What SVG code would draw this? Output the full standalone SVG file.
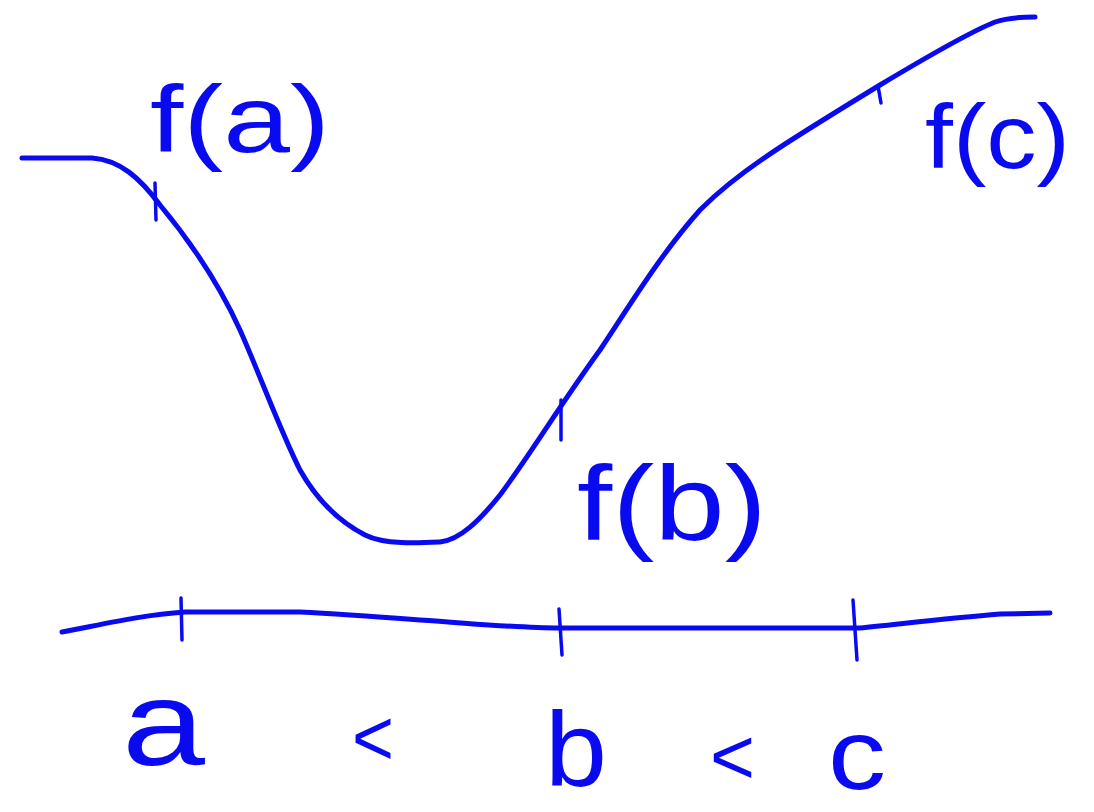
<svg xmlns="http://www.w3.org/2000/svg" width="1094" height="812" viewBox="0 0 1094 812">
<style>
.ink{fill:none;stroke:#0a0af0;stroke-width:5;stroke-linecap:round;stroke-linejoin:round}
.thin{fill:none;stroke:#0a0af0;stroke-width:3.5;stroke-linecap:round}
.lbl{font-family:"Liberation Sans",Arial,sans-serif;fill:#0a0af0}
</style>
<rect width="1094" height="812" fill="#ffffff"/>
<g id="curve">
<path class="ink" d="M22,158 L92,158 C120,160 140,178 160,205 C185,235 215,275 240,330 C260,375 280,430 300,470 C318,502 340,522 365,535 C385,545 420,543 440,542 C460,540 480,520 500,495 C530,455 560,405 600,350 C630,305 660,255 700,210 C740,170 790,140 880,85 C930,55 975,30 995,22 C1010,17 1025,17 1035,17"/>
<path class="thin" d="M155,183 L156,220"/>
<path class="thin" d="M561,400 L561,440"/>
<path class="thin" d="M878,86 L881,103"/>
</g>
<g id="axis">
<path class="ink" d="M62,632 C100,625 140,615 185,612 L300,612 C340,614 380,617 420,620 C480,624 520,628 560,628 L860,628 C900,624 950,618 1000,614 L1050,613"/>
<path class="thin" d="M181,598 L182,640"/>
<path class="thin" d="M559,609 L562,655"/>
<path class="thin" d="M853,600 L857,660"/>
</g>
<g id="label-fa"><text class="lbl" x="150" y="152" font-size="95" textLength="180" lengthAdjust="spacingAndGlyphs">f(a)</text></g>
<g id="label-fc"><text class="lbl" x="925" y="168" font-size="90" textLength="145" lengthAdjust="spacingAndGlyphs">f(c)</text></g>
<g id="label-fb"><text class="lbl" x="577" y="540" font-size="105" textLength="190" lengthAdjust="spacingAndGlyphs">f(b)</text></g>
<g id="label-order">
<text class="lbl" x="122" y="765" font-size="120" textLength="83" lengthAdjust="spacingAndGlyphs">a</text>
<text class="lbl" x="352" y="765" font-size="80" textLength="42" lengthAdjust="spacingAndGlyphs">&lt;</text>
<text class="lbl" x="545" y="786" font-size="105" textLength="62" lengthAdjust="spacingAndGlyphs">b</text>
<text class="lbl" x="710" y="784" font-size="80" textLength="45" lengthAdjust="spacingAndGlyphs">&lt;</text>
<text class="lbl" x="828" y="789" font-size="100" textLength="58" lengthAdjust="spacingAndGlyphs">c</text>
</g>
</svg>
